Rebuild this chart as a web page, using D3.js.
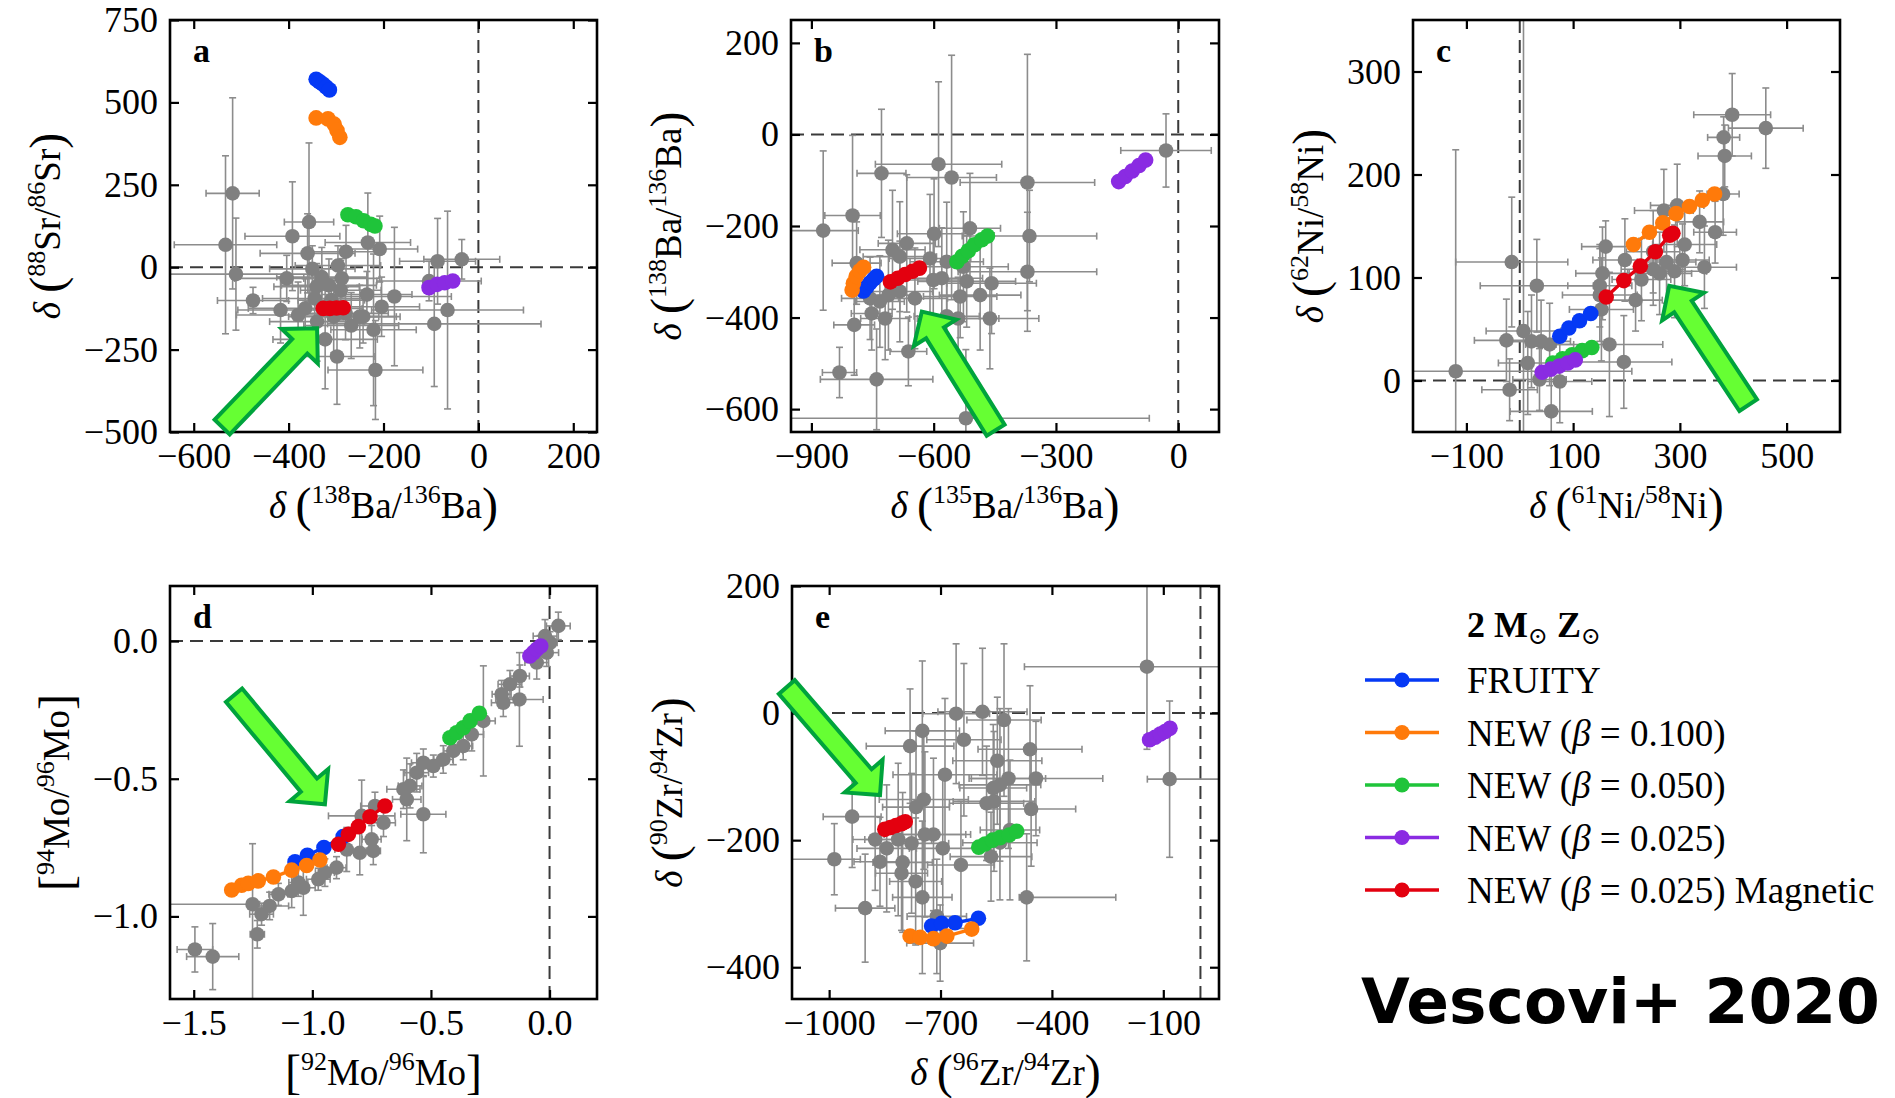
<!DOCTYPE html>
<html>
<head>
<meta charset="utf-8">
<script src="https://cdn.jsdelivr.net/npm/d3@7"></script>
<style>
  body { margin: 0; background: #fff; }
  svg { display: block; }
</style>
</head>
<body>
<svg id="chart" width="1895" height="1098"></svg>
<script>
// ---------------- Grain measurements: [x, y, xerr, yerr] (err may be [low, high]) ----------------
const grainsA = [
  [-518, 224, 56, 290], [-533, 68, 108, 270], [-511, -21, 160, 170], [-475, -101, 75, 40],
  [-392, 94, 100, 165], [-357, 137, 52, 240], [-360, 42, 100, 120], [-404, -34, 110, 70],
  [-417, -130, 90, 100], [-296, 5, 90, 60], [-279, 47, 75, 80], [-233, 75, 90, 150],
  [-208, 55, 80, 100], [-235, -83, 95, 70], [-204, -120, 80, 90], [-177, -89, 120, 210],
  [-221, -190, 90, 230], [-217, -312, 100, 150], [-298, -271, 80, 145], [-323, -219, 110, 150],
  [-268, -177, 100, 100], [-350, -5, 90, 70], [-330, -30, 95, 90], [-315, -55, 100, 80],
  [-290, -70, 85, 90], [-345, -95, 110, 100], [-365, -125, 120, 90], [-305, -150, 95, 110],
  [-280, -140, 90, 80], [-340, -165, 100, 120], [-250, -150, 85, 95], [-380, -145, 130, 100],
  [-310, -100, 70, 60], [-243, -150, 70, 80], [-341, -59, 90, 70], [-288, -34, 80, 60],
  [-86, 18, 80, 130], [-35, 24, 80, 60], [-104, -42, 110, 60], [-65, -130, 160, 300],
  [-93, -172, 225, 190]
];
const grainsB = [
  [-871, -210, 86, 174], [-799, -177, 68, 175], [-795, -416, 50, 110], [-831, -520, 42, 55],
  [-740, -535, 138, 110], [-728, -85, 60, 140], [-588, -65, 155, 180], [-556, -94, 110, 267],
  [-370, -105, 165, 280], [-365, -222, 165, 100], [-370, -300, 170, 130], [-511, -205, 75, 120],
  [-599, -217, 90, 120], [-666, -238, 70, 150], [-701, -252, 80, 130], [-683, -267, 90, 120],
  [-609, -271, 100, 140], [-568, -278, 90, 130], [-527, -289, 110, 120], [-458, -325, 110, 110],
  [-519, -321, 120, 100], [-486, -351, 100, 120], [-462, -402, 120, 110], [-540, -402, 100, 90],
  [-568, -397, 80, 80], [-601, -318, 90, 100], [-646, -358, 80, 110], [-662, -474, 45, 75],
  [-521, -620, 450, 150], [-756, -358, 70, 90], [-732, -365, 60, 100], [-752, -391, 50, 80],
  [-719, -402, 60, 90], [-683, -343, 80, 110], [-789, -281, 60, 90], [-535, -354, 90, 90],
  [-580, -314, 100, 110], [-711, -351, 70, 120], [-30, -35, 111, 80]
];
const grainsC = [
  [-120, 9, 330, 215], [-15, 115, 105, 63], [32, 92, 106, 45], [-25, 39, 60, 40],
  [7, 48, 70, 310], [-19, -9, 52, 30], [59, -30, 77, 35], [75, -1, 60, 40],
  [37, 1, 50, 30], [15, 17, 55, 50], [22, 38, 50, 45], [40, 38, 55, 40],
  [56, 35, 45, 40], [168, 35, 100, 70], [195, 18, 90, 45], [153, 69, 60, 50],
  [150, 83, 70, 45], [150, 92, 60, 40], [155, 104, 50, 45], [161, 130, 45, 25],
  [197, 117, 60, 40], [217, 78, 50, 30], [228, 98, 55, 40], [250, 108, 60, 35],
  [262, 104, 60, 40], [275, 115, 55, 40], [290, 106, 60, 45], [305, 117, 50, 35],
  [309, 132, 60, 40], [270, 165, 55, 40], [295, 170, 50, 40], [337, 154, 45, 30],
  [346, 110, 60, 40], [366, 144, 40, 30], [381, 181, 30, 40], [384, 218, 50, 30],
  [382, 236, 30, 20], [398, 258, 72, 40], [461, 245, 70, 39], [250, 125, 50, 40]
];
const grainsD = [
  [-1.495, -1.12, 0.075, 0.082], [-1.42, -1.146, 0.11, 0.12], [-1.252, -0.956, [0.4, 0.03], [0.4, 0.22]],
  [-1.232, -1.065, 0.03, 0.05], [-1.214, -0.992, 0.05, 0.04], [-1.18, -0.962, 0.08, 0.05],
  [-1.143, -0.92, 0.04, 0.04], [-1.087, -0.908, 0.05, 0.06], [-1.059, -0.877, 0.04, 0.05],
  [-1.038, -0.896, 0.05, 0.1], [-0.975, -0.865, 0.05, 0.04], [-0.947, -0.841, 0.04, 0.05],
  [-0.898, -0.823, 0.04, 0.04], [-0.855, -0.757, 0.05, 0.08], [-0.8, -0.769, 0.04, 0.08],
  [-0.792, -0.635, 0.14, 0.13], [-0.75, -0.72, 0.04, 0.05], [-0.743, -0.762, 0.03, 0.05],
  [-0.736, -0.599, 0.06, 0.05], [-0.7, -0.66, 0.05, 0.05], [-0.616, -0.538, 0.07, 0.07],
  [-0.602, -0.575, 0.06, 0.15], [-0.588, -0.526, 0.05, 0.08], [-0.56, -0.478, 0.05, 0.07],
  [-0.532, -0.442, 0.05, 0.05], [-0.532, -0.629, 0.095, 0.14], [-0.49, -0.454, 0.04, 0.04],
  [-0.448, -0.43, 0.04, 0.05], [-0.406, -0.399, 0.04, 0.05], [-0.364, -0.381, 0.04, 0.05],
  [-0.328, -0.339, 0.05, 0.06], [-0.279, -0.29, 0.05, 0.2], [-0.202, -0.193, 0.04, 0.05],
  [-0.167, -0.157, 0.05, 0.05], [-0.125, -0.127, 0.04, 0.04], [-0.127, -0.212, 0.1, 0.17],
  [-0.195, -0.224, 0.05, 0.05], [-0.054, -0.078, 0.05, 0.06], [-0.04, -0.03, 0.04, 0.05],
  [-0.019, 0.018, 0.05, 0.06], [0.002, -0.006, 0.03, 0.04], [0.037, 0.055, 0.05, 0.05],
  [-0.012, -0.042, 0.05, 0.05]
];
const grainsE = [
  [-986, -230, [150, 70], 56], [-938, -163, 78, 80], [-903, -307, 80, 85], [-876, -199, 60, 80],
  [-863, -234, 70, 70], [-845, -213, 80, 100], [-814, -199, 90, 120], [-802, -235, 80, 110],
  [-805, -252, 70, 90], [-778, -205, 100, 110], [-767, -265, 70, 100], [-749, -290, 80, 120],
  [-782, -52, 118, 90], [-749, -28, 100, 110], [-766, -148, 90, 120], [-745, -136, 120, 110],
  [-742, -191, 110, 130], [-719, -191, 100, 120], [-694, -213, 90, 110], [-688, -97, 140, 120],
  [-658, -1, 90, 110], [-637, -42, 100, 120], [-645, -239, 90, 100], [-587, 2, 120, 100],
  [-529, -11, 100, 120], [-547, -75, 120, 100], [-517, -103, 100, 110], [-540, -113, 110, 120],
  [-558, -118, 90, 100], [-576, -142, 100, 90], [-556, -139, 110, 110], [-459, -57, 140, 100],
  [-443, -103, 180, 90], [-456, -151, 120, 90], [-564, -226, 110, 70], [-540, -204, 100, 90],
  [-513, -184, 80, 110], [-468, -290, [20, 240], 100], [-710, -320, 80, 90], [-701, -362, 90, 60],
  [-144, 73, 330, 130], [-83, -104, [60, 250], 123]
];

// ---------------- Model predictions (2 Msun, Zsun): [x, y] ----------------
const aFruity    = [[-342, 570], [-335, 563], [-328, 556], [-321, 547], [-314, 538]];
const aNew100    = [[-342, 453], [-317, 450], [-304, 434], [-298, 415], [-292, 394]];
const aNew050    = [[-275, 159], [-258, 153], [-242, 141], [-227, 130], [-218, 125]];
const aNew025    = [[-104, -62], [-87, -52], [-71, -47], [-54, -42]];
const aNew025Mag = [[-327, -125], [-313, -125], [-299, -124], [-285, -123]];

const bFruity    = [[-772, -342], [-764, -333], [-756, -324], [-747, -316], [-740, -310]];
const bNew100    = [[-800, -340], [-797, -325], [-790, -310], [-781, -298], [-772, -290]];
const bNew050    = [[-543, -278], [-530, -266], [-515, -254], [-500, -241], [-482, -230], [-468, -222]];
const bNew025    = [[-146, -103], [-130, -92], [-113, -80], [-96, -68], [-80, -56]];
const bNew025Mag = [[-706, -322], [-688, -314], [-670, -306], [-652, -299], [-635, -292]];

const cFruity    = [[75, 43], [92, 51], [112, 58], [133, 65]];
const cNew100    = [[213, 132], [243, 144], [268, 153], [293, 162], [318, 169], [342, 175], [365, 181]];
const cNew050    = [[62, 17], [80, 21], [98, 25], [117, 29], [135, 32]];
const cNew025    = [[42, 8], [58, 11], [74, 14], [90, 17], [104, 20]];
const cNew025Mag = [[162, 81], [195, 97], [226, 111], [254, 125], [281, 141], [287, 143]];

const dFruity    = [[-1.073, -0.802], [-1.021, -0.778], [-0.951, -0.75], [-0.87, -0.71]];
const dNew100    = [[-1.34, -0.904], [-1.298, -0.887], [-1.27, -0.88], [-1.228, -0.871],
                    [-1.164, -0.857], [-1.087, -0.832], [-1.024, -0.815], [-0.968, -0.795]];
const dNew050    = [[-0.42, -0.351], [-0.392, -0.333], [-0.364, -0.315], [-0.335, -0.29], [-0.296, -0.262]];
const dNew025    = [[-0.083, -0.054], [-0.068, -0.042], [-0.054, -0.03], [-0.037, -0.018]];
const dNew025Mag = [[-0.89, -0.738], [-0.848, -0.702], [-0.806, -0.674], [-0.757, -0.638], [-0.694, -0.599]];

const eFruity    = [[-724, -335], [-697, -331], [-661, -330], [-598, -323]];
const eNew100    = [[-782, -351], [-755, -353], [-719, -355], [-683, -351], [-616, -340]];
const eNew050    = [[-597, -211], [-580, -206], [-560, -200], [-540, -196], [-515, -192], [-495, -186]];
const eNew025    = [[-137, -42], [-122, -38], [-108, -33], [-95, -29], [-82, -24]];
const eNew025Mag = [[-850, -183], [-835, -180], [-820, -177], [-805, -174], [-795, -171]];

// ---------------- Ticks ----------------
const ticksAx = [-600, -400, -200, 0, 200],   ticksAy = [-500, -250, 0, 250, 500, 750];
const ticksBx = [-900, -600, -300, 0],        ticksBy = [-600, -400, -200, 0, 200];
const ticksCx = [-100, 100, 300, 500],        ticksCy = [0, 100, 200, 300];
const ticksDx = [-1.5, -1.0, -0.5, 0.0],      ticksDy = [-1.0, -0.5, 0.0];
const ticksEx = [-1000, -700, -400, -100],    ticksEy = [-400, -200, 0, 200];

// ---------------- Legend ----------------
const seriesNames = [
  [['FRUITY', '']],
  [['NEW (', ''], ['β', 'it'], [' = 0.100)', '']],
  [['NEW (', ''], ['β', 'it'], [' = 0.050)', '']],
  [['NEW (', ''], ['β', 'it'], [' = 0.025)', '']],
  [['NEW (', ''], ['β', 'it'], [' = 0.025) Magnetic', '']]
];
const seriesColors = ['#0539f5', '#ff7a0a', '#1fc43a', '#8a2be2', '#e3000f'];

// ---------------- Axis titles ----------------
const deltaLabel = (a, el1, b, el2) => [['δ ', 'it'], ['(', 'big'], [a, 'sup'], [el1, ''], ['/', ''], [b, 'sup'], [el2, ''], [')', 'big']];
const bracketLabel = (a, el1, b, el2) => [['[', 'big'], [a, 'sup'], [el1, ''], ['/', ''], [b, 'sup'], [el2, ''], [']', 'big']];

// ---------------- Annotation arrows (tail, tip) in data units ----------------
const arrowA = [[-540, -485], [-340, -185]];
const arrowB = [[-448, -646], [-629, -387]];
const arrowC = [[428, -24], [280, 92]];
const arrowD = [[-1.33, -0.197], [-0.947, -0.593]];
const arrowE = [[-1114, 41], [-863, -129]];

const intFmt = d3.format('d');
const decFmt = d3.format('.1f');

const panels = [
  { key: 'a', left: 170, top: 20, w: 427, h: 412, xDomain: [-650, 250], yDomain: [-500, 750],
    grains: grainsA, models: [aFruity, aNew100, aNew050, aNew025, aNew025Mag],
    xTicks: ticksAx, yTicks: ticksAy, fmt: intFmt, arrow: arrowA,
    xLabel: deltaLabel('138', 'Ba', '136', 'Ba'), yLabel: deltaLabel('88', 'Sr', '86', 'Sr') },
  { key: 'b', left: 791, top: 20, w: 428, h: 412, xDomain: [-950, 100], yDomain: [-650, 250],
    grains: grainsB, models: [bFruity, bNew100, bNew050, bNew025, bNew025Mag],
    xTicks: ticksBx, yTicks: ticksBy, fmt: intFmt, arrow: arrowB,
    xLabel: deltaLabel('135', 'Ba', '136', 'Ba'), yLabel: deltaLabel('138', 'Ba', '136', 'Ba') },
  { key: 'c', left: 1413, top: 20, w: 427, h: 412, xDomain: [-200, 600], yDomain: [-50, 350],
    grains: grainsC, models: [cFruity, cNew100, cNew050, cNew025, cNew025Mag],
    xTicks: ticksCx, yTicks: ticksCy, fmt: intFmt, arrow: arrowC,
    xLabel: deltaLabel('61', 'Ni', '58', 'Ni'), yLabel: deltaLabel('62', 'Ni', '58', 'Ni') },
  { key: 'd', left: 170, top: 586, w: 427, h: 413, xDomain: [-1.6, 0.2], yDomain: [-1.3, 0.2],
    grains: grainsD, models: [dFruity, dNew100, dNew050, dNew025, dNew025Mag],
    xTicks: ticksDx, yTicks: ticksDy, fmt: decFmt, arrow: arrowD,
    xLabel: bracketLabel('92', 'Mo', '96', 'Mo'), yLabel: bracketLabel('94', 'Mo', '96', 'Mo') },
  { key: 'e', left: 792, top: 586, w: 427, h: 413, xDomain: [-1100, 50], yDomain: [-450, 200],
    grains: grainsE, models: [eFruity, eNew100, eNew050, eNew025, eNew025Mag],
    xTicks: ticksEx, yTicks: ticksEy, fmt: intFmt, arrow: arrowE,
    xLabel: deltaLabel('96', 'Zr', '94', 'Zr'), yLabel: deltaLabel('90', 'Zr', '94', 'Zr') }
];

const SERIF = "'Liberation Serif', 'DejaVu Serif', serif";
const svg = d3.select('#chart');
svg.append('rect').attr('width', 1895).attr('height', 1098).attr('fill', '#fff');

// write a mixed-style label (italic, superscripts, tall delimiters) into a <text>
function writeLabel(textSel, parts) {
  let shift = 0;
  parts.forEach(([t, kind]) => {
    const ts = textSel.append('tspan').text(t);
    let target = 0;
    if (kind === 'sup') { ts.attr('font-size', 26); target = -15; }
    else if (kind === 'big') { ts.attr('font-size', 48); target = 3; }
    else if (kind === 'it') { ts.attr('font-style', 'italic'); }
    ts.attr('dy', target - shift);
    shift = target;
  });
}

const errSplit = e => Array.isArray(e) ? e : [e, e];

panels.forEach(p => {
  const g = svg.append('g').attr('transform', `translate(${p.left},${p.top})`);
  const x = d3.scaleLinear().domain(p.xDomain).range([0, p.w]);
  const y = d3.scaleLinear().domain(p.yDomain).range([p.h, 0]);

  const clipId = 'clip-' + p.key;
  g.append('clipPath').attr('id', clipId)
    .append('rect').attr('width', p.w).attr('height', p.h);
  const plot = g.append('g').attr('clip-path', `url(#${clipId})`);

  // zero reference lines
  const ref = plot.append('g').attr('stroke', '#3a3a3a').attr('stroke-width', 2)
    .attr('stroke-dasharray', '13,7').attr('fill', 'none');
  ref.append('line').attr('x1', 0).attr('x2', p.w).attr('y1', y(0)).attr('y2', y(0));
  ref.append('line').attr('x1', x(0)).attr('x2', x(0)).attr('y1', 0).attr('y2', p.h);

  // grain error bars
  const eb = plot.append('g').attr('stroke', '#8c8c8c').attr('stroke-width', 1.6).attr('fill', 'none');
  const cap = 3.5;
  p.grains.forEach(d => {
    const [gx, gy, ex, ey] = d;
    const [exl, exh] = errSplit(ex);
    const [eyl, eyh] = errSplit(ey);
    const px = x(gx), py = y(gy);
    const x0 = x(gx - exl), x1 = x(gx + exh);
    const y0 = y(gy - eyl), y1 = y(gy + eyh);
    eb.append('line').attr('x1', x0).attr('x2', x1).attr('y1', py).attr('y2', py);
    eb.append('line').attr('x1', x0).attr('x2', x0).attr('y1', py - cap).attr('y2', py + cap);
    eb.append('line').attr('x1', x1).attr('x2', x1).attr('y1', py - cap).attr('y2', py + cap);
    eb.append('line').attr('x1', px).attr('x2', px).attr('y1', y0).attr('y2', y1);
    eb.append('line').attr('x1', px - cap).attr('x2', px + cap).attr('y1', y0).attr('y2', y0);
    eb.append('line').attr('x1', px - cap).attr('x2', px + cap).attr('y1', y1).attr('y2', y1);
  });
  plot.append('g').selectAll('circle').data(p.grains).join('circle')
    .attr('cx', d => x(d[0])).attr('cy', d => y(d[1])).attr('r', 7.3).attr('fill', '#808080');

  // model tracks
  const line = d3.line().x(d => x(d[0])).y(d => y(d[1]));
  p.models.forEach((m, i) => {
    const col = seriesColors[i];
    plot.append('path').datum(m).attr('d', line)
      .attr('fill', 'none').attr('stroke', col).attr('stroke-width', 3.4);
    plot.append('g').selectAll('circle').data(m).join('circle')
      .attr('cx', d => x(d[0])).attr('cy', d => y(d[1])).attr('r', 7.8).attr('fill', col);
  });

  // axes: ticks inside on all four sides
  const styleAxis = sel => {
    sel.select('.domain').remove();
    sel.selectAll('line').attr('stroke', '#000').attr('stroke-width', 2.2);
    sel.selectAll('text').attr('font-family', SERIF).attr('font-size', 36).attr('fill', '#000');
  };
  const tIn = -9;
  g.append('g').attr('transform', `translate(0,${p.h})`)
    .call(d3.axisBottom(x).tickValues(p.xTicks).tickFormat(p.fmt).tickSizeInner(tIn).tickSizeOuter(0).tickPadding(10))
    .call(styleAxis);
  g.append('g')
    .call(d3.axisTop(x).tickValues(p.xTicks).tickFormat(() => '').tickSizeInner(tIn).tickSizeOuter(0))
    .call(styleAxis);
  const yAxisG = g.append('g')
    .call(d3.axisLeft(y).tickValues(p.yTicks).tickFormat(p.fmt).tickSizeInner(tIn).tickSizeOuter(0).tickPadding(12))
    .call(styleAxis);
  g.append('g').attr('transform', `translate(${p.w},0)`)
    .call(d3.axisRight(y).tickValues(p.yTicks).tickFormat(() => '').tickSizeInner(tIn).tickSizeOuter(0))
    .call(styleAxis);

  // frame
  g.append('rect').attr('width', p.w).attr('height', p.h)
    .attr('fill', 'none').attr('stroke', '#000').attr('stroke-width', 2.6);

  // panel letter
  g.append('text').attr('x', 23).attr('y', 42).text(p.key)
    .attr('font-family', SERIF).attr('font-weight', 'bold').attr('font-size', 34);

  // axis titles
  const xt = g.append('text').attr('x', p.w / 2).attr('y', p.h + 86)
    .attr('text-anchor', 'middle').attr('font-family', SERIF).attr('font-size', 37);
  writeLabel(xt, p.xLabel);
  let tickLeft = 0;
  yAxisG.selectAll('text').each(function () {
    const b = this.getBBox();
    tickLeft = Math.min(tickLeft, b.x);
  });
  const yt = g.append('text')
    .attr('transform', `translate(${tickLeft - 24},${p.h / 2}) rotate(-90)`)
    .attr('text-anchor', 'middle').attr('font-family', SERIF).attr('font-size', 37);
  writeLabel(yt, p.yLabel);

  // highlight arrow
  const [tail, tip] = p.arrow;
  const t0 = [x(tail[0]), y(tail[1])], t1 = [x(tip[0]), y(tip[1])];
  const dx = t1[0] - t0[0], dy = t1[1] - t0[1];
  const L = Math.hypot(dx, dy);
  const u = [dx / L, dy / L], n = [-u[1], u[0]];
  const sw = 10.5, hw = 25, hl = 25;
  const base = [t1[0] - u[0] * hl, t1[1] - u[1] * hl];
  const pt = (o, k) => [o[0] + n[0] * k, o[1] + n[1] * k];
  const poly = [pt(t0, sw), pt(base, sw), pt(base, hw), t1, pt(base, -hw), pt(base, -sw), pt(t0, -sw)];
  g.append('polygon').attr('points', poly.map(q => q.join(',')).join(' '))
    .attr('fill', '#66ff33').attr('stroke', '#00a33c').attr('stroke-width', 4)
    .attr('stroke-linejoin', 'miter');
});

// legend
const legend = svg.append('g').attr('font-family', SERIF);
const lgTitle = legend.append('text').attr('x', 1467).attr('y', 637)
  .attr('font-size', 36).attr('font-weight', 'bold');
lgTitle.append('tspan').text('2 M');
lgTitle.append('tspan').text('⊙').attr('font-size', 24).attr('font-weight', 'normal').attr('dy', 7);
lgTitle.append('tspan').text('  Z').attr('dy', -7);
lgTitle.append('tspan').text('⊙').attr('font-size', 24).attr('font-weight', 'normal').attr('dy', 7);

seriesNames.forEach((parts, i) => {
  const yy = 680 + i * 52.5;
  const col = seriesColors[i];
  legend.append('line').attr('x1', 1365).attr('x2', 1439).attr('y1', yy).attr('y2', yy)
    .attr('stroke', col).attr('stroke-width', 3.4);
  legend.append('circle').attr('cx', 1402).attr('cy', yy).attr('r', 7.6).attr('fill', col);
  const t = legend.append('text').attr('x', 1467).attr('y', yy + 13).attr('font-size', 37);
  parts.forEach(([s, kind]) => {
    const ts = t.append('tspan').text(s);
    if (kind === 'it') ts.attr('font-style', 'italic');
  });
});

svg.append('text').attr('x', 1361).attr('y', 1023)
  .attr('font-family', "'DejaVu Sans', sans-serif").attr('font-weight', 'bold')
  .attr('font-size', 63).text('Vescovi+ 2020');
</script>
</body>
</html>
